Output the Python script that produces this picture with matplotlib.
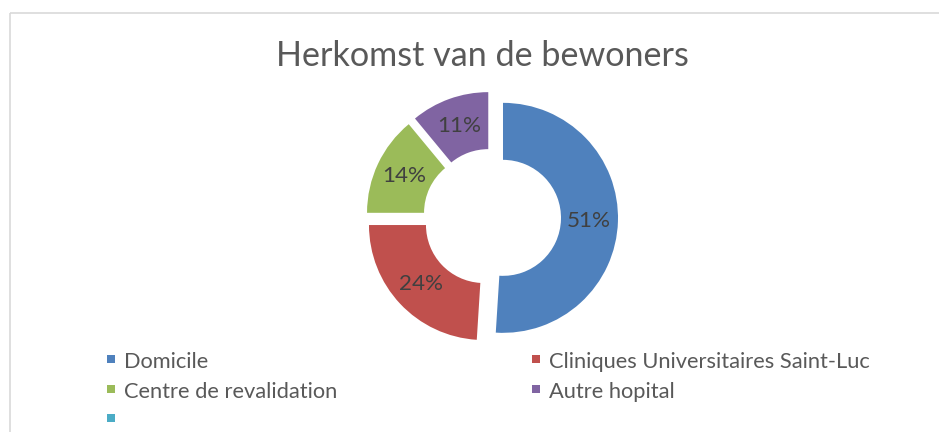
import matplotlib
matplotlib.use("Agg")
import matplotlib.pyplot as plt
from matplotlib.patches import Rectangle

# ---- data ----
title = "Herkomst van de bewoners"
categories = ["Domicile", "Cliniques Universitaires Saint-Luc",
              "Centre de revalidation", "Autre hopital"]
values = [51, 24, 14, 11]
colors = ["#4F81BD", "#C0504D", "#9BBB59", "#8064A2"]
extra_legend_label = ""
extra_legend_color = "#4BACC6"

W, H = 939, 432
FONT = "Lato"

fig = plt.figure(figsize=(W / 100, H / 100), dpi=100)
ax = fig.add_axes([0, 0, 1, 1])

def Y(y):
    return H - y

# donut
cx, cy = 492, 217.5
R = 115
ring = 57
wedges, texts, autotexts = ax.pie(
    values, colors=colors, startangle=90, counterclock=False,
    explode=[11] * len(values), radius=R, center=(cx, Y(cy)),
    wedgeprops=dict(width=ring, edgecolor="none"),
    autopct="%1.0f%%", pctdistance=0.75,
    textprops=dict(color="#404040", family=FONT, fontsize=15))

ax.set_xlim(0, W)
ax.set_ylim(0, H)
ax.set_aspect("auto")
ax.axis("off")

# border
ax.add_patch(Rectangle((9.5, Y(12.5)), W, -H, fill=False,
                       edgecolor="#D9D9D9", linewidth=1.2, clip_on=False))

# title
t_title = ax.text(482, Y(66.5), title, ha="center", va="baseline",
                  color="#595959", family=FONT, fontsize=25)

# legend (row-wise, 2 columns)
labels = categories + [extra_legend_label]
lcolors = colors + [extra_legend_color]
col_x = [107, 532]
row_y = [359, 388.5, 418]
ltexts = []
for i, (lab, col) in enumerate(zip(labels, lcolors)):
    r, c = divmod(i, 2)
    x0 = col_x[c]
    yc = row_y[r]
    ax.add_patch(Rectangle((x0, Y(yc) - 4), 8, 8, facecolor=col,
                           edgecolor="none"))
    t = ax.text(x0 + 17, Y(yc + 9), lab, ha="left", va="baseline",
                color="#595959", family=FONT, fontsize=15)
    ltexts.append(t)

# fit font sizes to measured widths
fig.canvas.draw()
rend = fig.canvas.get_renderer()

def fit(txts, ref, target):
    w = ref.get_window_extent(rend).width
    s = ref.get_fontsize() * target / w
    for t in txts:
        t.set_fontsize(s)

fit([t_title], t_title, 413)
fit(ltexts, ltexts[1], 322)
fit(autotexts, autotexts[0], 44)

fig.savefig("out.png", dpi=100)
